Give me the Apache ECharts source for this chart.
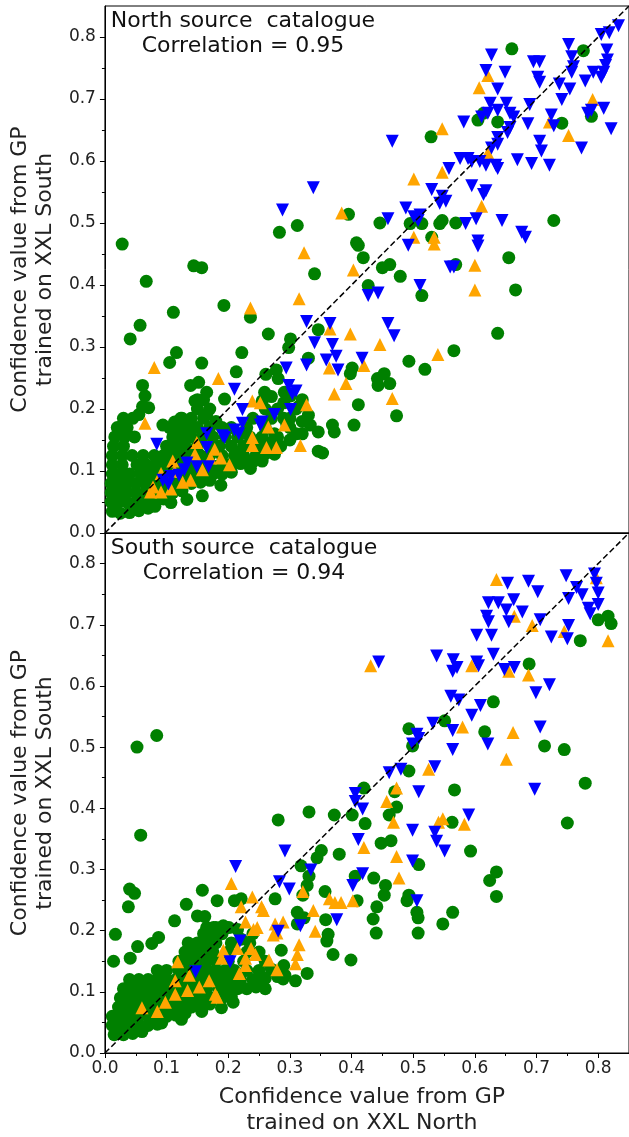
<!DOCTYPE html>
<html>
<head>
<meta charset="utf-8">
<script src="https://cdn.jsdelivr.net/npm/echarts@6/dist/echarts.min.js"></script>
<style>
  html, body { margin: 0; padding: 0; background: #fff; }
  #chart { width: 629px; height: 1137px; }
</style>
</head>
<body>
<div id="chart"></div>
<script>
// tick values shared by both axes
const tickValues = [0, 0.1, 0.2, 0.3, 0.4, 0.5, 0.6, 0.7, 0.8];
const axisMax = 0.85;
const diagonal = [[0, 0], [0.85, 0.85]];

// North source catalogue (top panel)
const northGreen = [
    [0.660, 0.781], [0.776, 0.778], [0.789, 0.672], [0.741, 0.661], [0.605, 0.666], [0.614, 0.677], [0.637, 0.663],
    [0.529, 0.639], [0.728, 0.504], [0.655, 0.444], [0.666, 0.392], [0.637, 0.322], [0.569, 0.500], [0.547, 0.504],
    [0.543, 0.499], [0.514, 0.499], [0.495, 0.499], [0.530, 0.477], [0.446, 0.500], [0.395, 0.514], [0.312, 0.496],
    [0.283, 0.485], [0.408, 0.468], [0.411, 0.464], [0.419, 0.444], [0.450, 0.428], [0.462, 0.433], [0.479, 0.414],
    [0.340, 0.418], [0.427, 0.399], [0.514, 0.383], [0.569, 0.433], [0.144, 0.431], [0.157, 0.428], [0.028, 0.466],
    [0.067, 0.406], [0.193, 0.367], [0.111, 0.356], [0.057, 0.335], [0.041, 0.313], [0.236, 0.348], [0.265, 0.321],
    [0.301, 0.313], [0.346, 0.328], [0.330, 0.282], [0.298, 0.299], [0.222, 0.291], [0.116, 0.291], [0.105, 0.275],
    [0.157, 0.274], [0.213, 0.260], [0.261, 0.256], [0.566, 0.294], [0.493, 0.277], [0.519, 0.264], [0.442, 0.249],
    [0.453, 0.257], [0.462, 0.241], [0.443, 0.238], [0.401, 0.266], [0.398, 0.257], [0.411, 0.207], [0.473, 0.189],
    [0.404, 0.174], [0.369, 0.174], [0.372, 0.163], [0.333, 0.174], [0.346, 0.163], [0.320, 0.160], [0.346, 0.132],
    [0.353, 0.129], [0.314, 0.204], [0.301, 0.221], [0.281, 0.249], [0.278, 0.263], [0.291, 0.227], [0.259, 0.227],
    [0.255, 0.213], [0.194, 0.216], [0.165, 0.191], [0.146, 0.213], [0.139, 0.238], [0.152, 0.243], [0.165, 0.227],
    [0.061, 0.238], [0.065, 0.221], [0.061, 0.204], [0.071, 0.202], [0.055, 0.191], [0.094, 0.174], [0.113, 0.179],
    [0.123, 0.185], [0.236, 0.104], [0.255, 0.116], [0.204, 0.099], [0.188, 0.077], [0.158, 0.060], [0.133, 0.054],
    [0.107, 0.049], [0.081, 0.043], [0.275, 0.127], [0.217, 0.121],
    [0.200, 0.110], [0.215, 0.130], [0.230, 0.115], [0.250, 0.130], [0.265, 0.145], [0.285, 0.140], [0.300, 0.150],
    [0.310, 0.160], [0.295, 0.175], [0.275, 0.160], [0.250, 0.150], [0.220, 0.160], [0.205, 0.170], [0.180, 0.180],
    [0.260, 0.200], [0.300, 0.185], [0.320, 0.180], [0.330, 0.190], [0.290, 0.210], [0.270, 0.220],
    // dense cluster near the origin
    [0.012, 0.035], [0.025, 0.032], [0.040, 0.033], [0.055, 0.036], [0.070, 0.040],
    [0.010, 0.050], [0.022, 0.050], [0.035, 0.050], [0.050, 0.050], [0.065, 0.050], [0.080, 0.052], [0.095, 0.055],
    [0.010, 0.065], [0.022, 0.065], [0.035, 0.065], [0.050, 0.065], [0.065, 0.065], [0.080, 0.065], [0.095, 0.065],
    [0.110, 0.065], [0.125, 0.068],
    [0.010, 0.080], [0.022, 0.080], [0.035, 0.080], [0.050, 0.080], [0.065, 0.080], [0.080, 0.080], [0.095, 0.080],
    [0.110, 0.080], [0.125, 0.080], [0.140, 0.080], [0.155, 0.082], [0.170, 0.085],
    [0.012, 0.095], [0.025, 0.095], [0.040, 0.095], [0.058, 0.095], [0.072, 0.095], [0.087, 0.095], [0.100, 0.095],
    [0.115, 0.095], [0.130, 0.095], [0.145, 0.095], [0.160, 0.095], [0.175, 0.095], [0.190, 0.095], [0.205, 0.098],
    [0.012, 0.110], [0.028, 0.110], [0.052, 0.110], [0.067, 0.110], [0.082, 0.110], [0.097, 0.110], [0.112, 0.110],
    [0.127, 0.110], [0.142, 0.110], [0.157, 0.110], [0.172, 0.110], [0.187, 0.110], [0.205, 0.110], [0.220, 0.112],
    [0.240, 0.115],
    [0.012, 0.125], [0.028, 0.125], [0.044, 0.125], [0.062, 0.125], [0.080, 0.125], [0.095, 0.125], [0.110, 0.125],
    [0.125, 0.125], [0.140, 0.125], [0.155, 0.125], [0.170, 0.125], [0.190, 0.125], [0.210, 0.125], [0.225, 0.125],
    [0.245, 0.125], [0.260, 0.128],
    [0.014, 0.140], [0.030, 0.140], [0.100, 0.140], [0.115, 0.140], [0.130, 0.140], [0.150, 0.140], [0.170, 0.140],
    [0.185, 0.140], [0.205, 0.140], [0.225, 0.140], [0.240, 0.140], [0.255, 0.140], [0.270, 0.142],
    [0.016, 0.155], [0.032, 0.155], [0.048, 0.155], [0.110, 0.155], [0.125, 0.155], [0.140, 0.155], [0.158, 0.155],
    [0.175, 0.155], [0.195, 0.155], [0.215, 0.155], [0.235, 0.155], [0.255, 0.155], [0.280, 0.155],
    [0.020, 0.170], [0.036, 0.170], [0.105, 0.170], [0.120, 0.170], [0.135, 0.170], [0.150, 0.170], [0.170, 0.170],
    [0.190, 0.170], [0.230, 0.170], [0.260, 0.170], [0.300, 0.170],
    [0.030, 0.185], [0.045, 0.185], [0.125, 0.185], [0.140, 0.185], [0.160, 0.185], [0.240, 0.185], [0.270, 0.185],
    [0.290, 0.185],
    [0.150, 0.200], [0.170, 0.200], [0.280, 0.200], [0.310, 0.200],
    [0.150, 0.215], [0.160, 0.215], [0.320, 0.215]
];
const northOrange = [
    [0.621, 0.738], [0.607, 0.718], [0.547, 0.652], [0.791, 0.699], [0.721, 0.663], [0.752, 0.641], [0.621, 0.613],
    [0.547, 0.582], [0.501, 0.571], [0.611, 0.527], [0.384, 0.516], [0.501, 0.477], [0.534, 0.477], [0.534, 0.466],
    [0.323, 0.452], [0.403, 0.424], [0.600, 0.432], [0.600, 0.392], [0.315, 0.378], [0.236, 0.363], [0.398, 0.321],
    [0.365, 0.329], [0.446, 0.304], [0.540, 0.288], [0.080, 0.267], [0.184, 0.249], [0.364, 0.266], [0.420, 0.270],
    [0.391, 0.241], [0.372, 0.224], [0.466, 0.217], [0.327, 0.207], [0.239, 0.213], [0.252, 0.210], [0.291, 0.174],
    [0.265, 0.171], [0.317, 0.141], [0.278, 0.138], [0.262, 0.138], [0.239, 0.141], [0.239, 0.154], [0.178, 0.135],
    [0.149, 0.146], [0.146, 0.127], [0.171, 0.121], [0.065, 0.177], [0.202, 0.110], [0.188, 0.121], [0.110, 0.116],
    [0.091, 0.096], [0.113, 0.099], [0.158, 0.102], [0.078, 0.074], [0.091, 0.066], [0.074, 0.066], [0.107, 0.071],
    [0.126, 0.082], [0.139, 0.085]
];
const northBlue = [
    [0.833, 0.818], [0.818, 0.807], [0.805, 0.804], [0.752, 0.788], [0.814, 0.779], [0.757, 0.768], [0.815, 0.763],
    [0.627, 0.771], [0.695, 0.760], [0.705, 0.760], [0.760, 0.752], [0.812, 0.754], [0.618, 0.746], [0.649, 0.743],
    [0.702, 0.735], [0.705, 0.727], [0.757, 0.743], [0.792, 0.743], [0.809, 0.743], [0.805, 0.735], [0.779, 0.729],
    [0.637, 0.716], [0.737, 0.724], [0.754, 0.716], [0.741, 0.699], [0.625, 0.693], [0.651, 0.693], [0.689, 0.691],
    [0.621, 0.677], [0.637, 0.682], [0.657, 0.677], [0.663, 0.671], [0.582, 0.663], [0.611, 0.671], [0.724, 0.674],
    [0.789, 0.682], [0.809, 0.685], [0.783, 0.677], [0.686, 0.660], [0.728, 0.657], [0.821, 0.652], [0.657, 0.654],
    [0.637, 0.638], [0.653, 0.646], [0.705, 0.632], [0.708, 0.616], [0.627, 0.621], [0.637, 0.627], [0.773, 0.621],
    [0.466, 0.632], [0.576, 0.604], [0.589, 0.604], [0.595, 0.599], [0.608, 0.599], [0.618, 0.593], [0.634, 0.593],
    [0.669, 0.602], [0.692, 0.596], [0.721, 0.593], [0.637, 0.588], [0.558, 0.588], [0.595, 0.560], [0.530, 0.554],
    [0.547, 0.543], [0.553, 0.535], [0.543, 0.532], [0.618, 0.552], [0.614, 0.546], [0.338, 0.557], [0.288, 0.521],
    [0.488, 0.524], [0.501, 0.510], [0.511, 0.513], [0.508, 0.504], [0.459, 0.507], [0.585, 0.499], [0.602, 0.507],
    [0.644, 0.504], [0.492, 0.464], [0.605, 0.471], [0.605, 0.463], [0.676, 0.485], [0.682, 0.477], [0.560, 0.429],
    [0.566, 0.429], [0.511, 0.399], [0.427, 0.383], [0.443, 0.387], [0.459, 0.338], [0.469, 0.318], [0.327, 0.341],
    [0.365, 0.338], [0.340, 0.307], [0.369, 0.304], [0.375, 0.285], [0.359, 0.279], [0.417, 0.282], [0.378, 0.263],
    [0.327, 0.271], [0.294, 0.266], [0.298, 0.238], [0.310, 0.229], [0.304, 0.224], [0.210, 0.232], [0.223, 0.199],
    [0.275, 0.191], [0.301, 0.199], [0.255, 0.179], [0.252, 0.174], [0.223, 0.177], [0.217, 0.160], [0.210, 0.166],
    [0.191, 0.157], [0.194, 0.154], [0.165, 0.160], [0.165, 0.138], [0.084, 0.143], [0.133, 0.113], [0.149, 0.107],
    [0.129, 0.102], [0.168, 0.107], [0.094, 0.085], [0.107, 0.091], [0.120, 0.093], [0.103, 0.079]
];

// South source catalogue (bottom panel)
const southGreen = [
    [0.816, 0.714], [0.800, 0.708], [0.821, 0.702], [0.771, 0.674], [0.688, 0.636], [0.630, 0.574], [0.616, 0.525],
    [0.551, 0.543], [0.713, 0.502], [0.745, 0.496], [0.779, 0.441], [0.750, 0.376], [0.493, 0.530], [0.499, 0.502],
    [0.493, 0.461], [0.567, 0.430], [0.420, 0.433], [0.470, 0.427], [0.473, 0.402], [0.461, 0.389], [0.422, 0.375],
    [0.401, 0.389], [0.372, 0.389], [0.331, 0.394], [0.281, 0.381], [0.084, 0.519], [0.052, 0.500], [0.058, 0.356],
    [0.380, 0.325], [0.351, 0.331], [0.344, 0.319], [0.318, 0.306], [0.448, 0.343], [0.464, 0.347], [0.563, 0.377],
    [0.593, 0.330], [0.509, 0.308], [0.635, 0.296], [0.624, 0.282], [0.635, 0.256], [0.436, 0.286], [0.455, 0.274],
    [0.453, 0.258], [0.441, 0.239], [0.435, 0.219], [0.440, 0.196], [0.493, 0.258], [0.490, 0.249], [0.506, 0.230],
    [0.508, 0.221], [0.508, 0.196], [0.564, 0.230], [0.548, 0.211], [0.406, 0.289], [0.409, 0.249], [0.399, 0.152],
    [0.370, 0.161], [0.358, 0.218], [0.362, 0.194], [0.360, 0.183], [0.331, 0.289], [0.328, 0.274], [0.321, 0.258],
    [0.312, 0.230], [0.323, 0.221], [0.312, 0.211], [0.357, 0.264], [0.276, 0.252], [0.286, 0.168], [0.290, 0.143],
    [0.328, 0.130], [0.309, 0.118], [0.289, 0.121], [0.040, 0.268], [0.048, 0.261], [0.038, 0.239], [0.017, 0.194],
    [0.014, 0.150], [0.041, 0.155], [0.053, 0.174], [0.076, 0.179], [0.087, 0.189], [0.113, 0.216], [0.132, 0.243],
    [0.158, 0.266], [0.150, 0.224], [0.162, 0.223], [0.182, 0.249], [0.210, 0.249], [0.221, 0.252], [0.201, 0.205],
    [0.254, 0.118], [0.260, 0.105], [0.208, 0.083], [0.189, 0.074], [0.157, 0.068], [0.124, 0.055], [0.092, 0.049],
    [0.292, 0.127], [0.176, 0.205], [0.192, 0.208], [0.215, 0.202], [0.221, 0.186],
    // dense cluster near the origin
    [0.015, 0.030], [0.030, 0.030], [0.045, 0.032], [0.060, 0.035],
    [0.012, 0.045], [0.025, 0.045], [0.040, 0.045], [0.055, 0.045], [0.070, 0.045], [0.085, 0.047],
    [0.012, 0.060], [0.025, 0.060], [0.040, 0.060], [0.055, 0.060], [0.070, 0.060], [0.085, 0.060], [0.100, 0.060],
    [0.115, 0.062], [0.130, 0.065],
    [0.022, 0.075], [0.035, 0.075], [0.050, 0.075], [0.065, 0.075], [0.080, 0.075], [0.095, 0.075], [0.110, 0.075],
    [0.125, 0.075], [0.140, 0.075], [0.155, 0.077], [0.170, 0.080],
    [0.025, 0.090], [0.040, 0.090], [0.055, 0.090], [0.070, 0.090], [0.085, 0.090], [0.100, 0.090], [0.115, 0.090],
    [0.130, 0.090], [0.145, 0.090], [0.160, 0.090], [0.175, 0.090], [0.190, 0.090], [0.205, 0.092],
    [0.030, 0.105], [0.045, 0.105], [0.060, 0.105], [0.075, 0.105], [0.090, 0.105], [0.105, 0.105], [0.120, 0.105],
    [0.135, 0.105], [0.150, 0.105], [0.165, 0.105], [0.185, 0.105], [0.200, 0.105], [0.215, 0.105], [0.230, 0.105],
    [0.245, 0.108],
    [0.040, 0.120], [0.055, 0.120], [0.070, 0.120], [0.085, 0.120], [0.100, 0.120], [0.115, 0.120], [0.130, 0.120],
    [0.145, 0.120], [0.160, 0.120], [0.175, 0.120], [0.190, 0.120], [0.205, 0.120], [0.220, 0.120], [0.240, 0.120],
    [0.260, 0.122], [0.280, 0.125],
    [0.085, 0.135], [0.100, 0.135], [0.120, 0.135], [0.135, 0.135], [0.150, 0.135], [0.165, 0.135], [0.180, 0.135],
    [0.195, 0.135], [0.210, 0.135], [0.230, 0.135], [0.250, 0.135], [0.270, 0.137],
    [0.120, 0.150], [0.135, 0.150], [0.150, 0.150], [0.165, 0.150], [0.180, 0.150], [0.200, 0.150], [0.225, 0.150],
    [0.260, 0.150],
    [0.130, 0.165], [0.145, 0.165], [0.160, 0.165], [0.175, 0.165], [0.200, 0.165], [0.230, 0.165], [0.250, 0.165],
    [0.135, 0.180], [0.150, 0.180], [0.165, 0.180], [0.180, 0.180], [0.205, 0.180], [0.235, 0.180],
    [0.160, 0.195], [0.175, 0.195], [0.190, 0.195], [0.240, 0.195],
    [0.165, 0.205], [0.180, 0.205], [0.195, 0.205]
];
const southOrange = [
    [0.635, 0.774], [0.431, 0.633], [0.595, 0.633], [0.797, 0.777], [0.664, 0.714], [0.693, 0.699], [0.745, 0.689],
    [0.816, 0.674], [0.655, 0.624], [0.687, 0.618], [0.580, 0.533], [0.662, 0.524], [0.651, 0.480], [0.525, 0.464],
    [0.473, 0.433], [0.457, 0.411], [0.468, 0.377], [0.541, 0.377], [0.548, 0.383], [0.583, 0.374], [0.420, 0.336],
    [0.473, 0.321], [0.477, 0.286], [0.205, 0.277], [0.321, 0.264], [0.239, 0.255], [0.221, 0.239], [0.254, 0.239],
    [0.257, 0.233], [0.364, 0.252], [0.373, 0.246], [0.383, 0.246], [0.402, 0.249], [0.338, 0.233], [0.341, 0.199],
    [0.228, 0.214], [0.247, 0.205], [0.241, 0.202], [0.276, 0.211], [0.289, 0.214], [0.273, 0.193], [0.279, 0.196],
    [0.315, 0.177], [0.312, 0.161], [0.309, 0.146], [0.279, 0.136], [0.266, 0.152], [0.192, 0.168], [0.189, 0.155],
    [0.215, 0.171], [0.237, 0.171], [0.244, 0.161], [0.228, 0.155], [0.218, 0.130], [0.228, 0.143], [0.169, 0.118],
    [0.179, 0.096], [0.182, 0.091], [0.153, 0.108], [0.137, 0.127], [0.134, 0.102], [0.118, 0.149], [0.114, 0.118],
    [0.114, 0.096], [0.098, 0.083], [0.060, 0.074], [0.085, 0.068]
];
const southBlue = [
    [0.653, 0.768], [0.687, 0.771], [0.702, 0.754], [0.748, 0.780], [0.794, 0.783], [0.797, 0.768], [0.800, 0.752],
    [0.800, 0.733], [0.765, 0.761], [0.752, 0.743], [0.774, 0.749], [0.784, 0.727], [0.787, 0.718], [0.752, 0.699],
    [0.750, 0.677], [0.724, 0.680], [0.706, 0.708], [0.677, 0.721], [0.663, 0.741], [0.651, 0.724], [0.638, 0.736],
    [0.622, 0.736], [0.619, 0.714], [0.622, 0.705], [0.655, 0.705], [0.603, 0.683], [0.627, 0.683], [0.630, 0.652],
    [0.603, 0.639], [0.606, 0.633], [0.648, 0.627], [0.664, 0.630], [0.538, 0.649], [0.565, 0.643], [0.564, 0.624],
    [0.571, 0.630], [0.444, 0.639], [0.721, 0.602], [0.699, 0.589], [0.561, 0.583], [0.574, 0.577], [0.609, 0.568],
    [0.595, 0.552], [0.532, 0.539], [0.564, 0.527], [0.506, 0.521], [0.509, 0.514], [0.499, 0.505], [0.706, 0.533],
    [0.621, 0.505], [0.564, 0.496], [0.535, 0.468], [0.461, 0.458], [0.480, 0.464], [0.697, 0.431], [0.509, 0.427],
    [0.406, 0.424], [0.406, 0.411], [0.418, 0.399], [0.590, 0.389], [0.499, 0.364], [0.535, 0.361], [0.538, 0.346],
    [0.551, 0.330], [0.411, 0.349], [0.499, 0.314], [0.292, 0.330], [0.334, 0.299], [0.212, 0.305], [0.418, 0.293],
    [0.283, 0.280], [0.299, 0.268], [0.402, 0.274], [0.506, 0.249], [0.376, 0.218], [0.317, 0.208], [0.281, 0.199],
    [0.219, 0.183], [0.203, 0.149], [0.147, 0.133]
];

const FONT = 'DejaVu Sans';
const eChart = echarts.init(document.getElementById('chart'));

function xAxisFor(idx, withLabels) {
    return {
        gridIndex: idx,
        type: 'value',
        min: 0,
        max: axisMax,
        interval: 0.1,
        axisLine: { show: true, onZero: false, lineStyle: { color: '#000', width: 1 } },
        axisTick: { show: withLabels, length: 5, customValues: tickValues, lineStyle: { color: '#000' } },
        minorTick: { show: withLabels, splitNumber: 2, length: 3, lineStyle: { color: '#000' } },
        axisLabel: {
            show: withLabels,
            customValues: tickValues,
            formatter: v => v.toFixed(1),
            fontFamily: FONT,
            fontSize: 17,
            color: '#222',
            margin: 7
        },
        splitLine: { show: false },
        name: withLabels ? 'Confidence value from GP\ntrained on XXL North' : '',
        nameLocation: 'middle',
        nameGap: 31,
        nameTextStyle: { fontFamily: FONT, fontSize: 22, color: '#222', lineHeight: 26, padding: [0, 10, 0, 0] }
    };
}

function yAxisFor(idx) {
    return {
        gridIndex: idx,
        type: 'value',
        min: 0,
        max: axisMax,
        interval: 0.1,
        axisLine: { show: true, onZero: false, lineStyle: { color: '#000', width: 1 } },
        axisTick: { show: true, length: 5, customValues: tickValues, lineStyle: { color: '#000' } },
        minorTick: { show: true, splitNumber: 2, length: 3, lineStyle: { color: '#000' } },
        axisLabel: {
            customValues: tickValues,
            formatter: v => v.toFixed(1),
            fontFamily: FONT,
            fontSize: 17,
            color: '#222',
            margin: 9
        },
        splitLine: { show: false },
        name: 'Confidence value from GP\ntrained on XXL South',
        nameLocation: 'middle',
        nameRotate: 90,
        nameGap: 44,
        nameTextStyle: { fontFamily: FONT, fontSize: 22, color: '#222', lineHeight: 25 }
    };
}

function scatter(idx, data, color, rotate) {
    return {
        type: 'scatter',
        xAxisIndex: idx,
        yAxisIndex: idx,
        data: data,
        symbol: rotate === undefined ? 'circle' : 'triangle',
        symbolRotate: rotate || 0,
        symbolSize: 13,
        itemStyle: { color: color, opacity: 1 },
        z: 2
    };
}

function diagonalLine(idx) {
    return {
        type: 'line',
        xAxisIndex: idx,
        yAxisIndex: idx,
        data: diagonal,
        symbol: 'none',
        lineStyle: { color: '#000', width: 1.5, type: [6, 3] },
        z: 5
    };
}

const option = {
    animation: false,
    backgroundColor: '#fff',
    grid: [
        { left: 103, top: 6, width: 527, height: 527, show: true, borderColor: '#000', borderWidth: 1 },
        { left: 103, top: 533, width: 527, height: 527, show: true, borderColor: '#000', borderWidth: 1 }
    ],
    xAxis: [xAxisFor(0, false), xAxisFor(1, true)],
    yAxis: [yAxisFor(0), yAxisFor(1)],
    graphic: [
        {
            type: 'text', x: 243, y: 34, z: 10,
            style: {
                text: 'North source  catalogue\nCorrelation = 0.95',
                align: 'center', verticalAlign: 'middle',
                fontFamily: FONT, fontSize: 22, lineHeight: 25, fill: '#111'
            }
        },
        {
            type: 'text', x: 244, y: 561, z: 10,
            style: {
                text: 'South source  catalogue\nCorrelation = 0.94',
                align: 'center', verticalAlign: 'middle',
                fontFamily: FONT, fontSize: 22, lineHeight: 25, fill: '#111'
            }
        }
    ],
    series: [
        scatter(0, northGreen, '#008000'),
        scatter(0, northOrange, '#FFA500', 0),
        scatter(0, northBlue, '#0000FF', 180),
        diagonalLine(0),
        scatter(1, southGreen, '#008000'),
        scatter(1, southOrange, '#FFA500', 0),
        scatter(1, southBlue, '#0000FF', 180),
        diagonalLine(1)
    ]
};
eChart.setOption(option);
</script>
</body>
</html>
